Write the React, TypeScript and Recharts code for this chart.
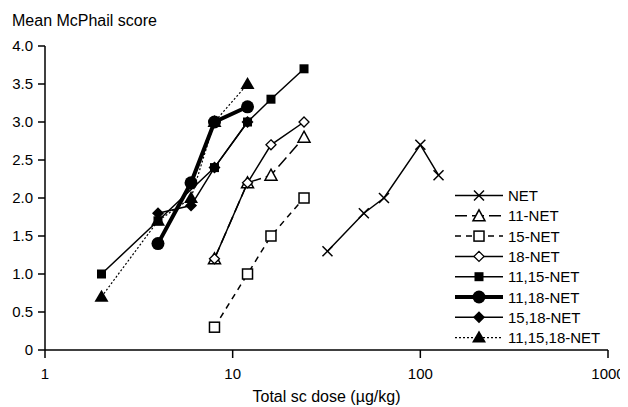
import { FC } from "react";
import { LineChart, Line, XAxis, YAxis, Legend, Label } from "recharts";

// dose (µg/kg) and mean McPhail score per compound
const netDose = [32, 50, 64, 100, 125];
const netScore = [1.3, 1.8, 2.0, 2.7, 2.3];

const n11Dose = [8, 12, 16, 24];
const n11Score = [1.2, 2.2, 2.3, 2.8];

const n15Dose = [8, 12, 16, 24];
const n15Score = [0.3, 1.0, 1.5, 2.0];

const n18Dose = [8, 12, 16, 24];
const n18Score = [1.2, 2.2, 2.7, 3.0];

const n1115Dose = [2, 4, 8, 12, 16, 24];
const n1115Score = [1.0, 1.7, 2.4, 3.0, 3.3, 3.7];

const n1118Dose = [4, 6, 8, 12];
const n1118Score = [1.4, 2.2, 3.0, 3.2];

const n1518Dose = [4, 6, 8, 12];
const n1518Score = [1.8, 1.9, 2.4, 3.0];

const n111518Dose = [2, 4, 6, 8, 12];
const n111518Score = [0.7, 1.7, 2.0, 3.0, 3.5];

const xTicks = [1, 10, 100, 1000];
const yTicks = [0, 0.5, 1, 1.5, 2, 2.5, 3, 3.5, 4];

type Shape =
  | "cross"
  | "triOpen"
  | "sqOpen"
  | "diaOpen"
  | "sqFilled"
  | "circle"
  | "diaFilled"
  | "triFilled";

const toRows = (dose: number[], score: number[]) =>
  dose.map((d, i) => ({ dose: d, score: score[i] }));

const SERIES: {
  name: string;
  data: { dose: number; score: number }[];
  shape: Shape;
  width: number;
  dash?: string;
}[] = [
  { name: "NET", data: toRows(netDose, netScore), shape: "cross", width: 1.5 },
  { name: "11-NET", data: toRows(n11Dose, n11Score), shape: "triOpen", width: 1.5, dash: "12 5" },
  { name: "15-NET", data: toRows(n15Dose, n15Score), shape: "sqOpen", width: 1.5, dash: "6 5" },
  { name: "18-NET", data: toRows(n18Dose, n18Score), shape: "diaOpen", width: 1.5 },
  { name: "11,15-NET", data: toRows(n1115Dose, n1115Score), shape: "sqFilled", width: 1.5 },
  { name: "11,18-NET", data: toRows(n1118Dose, n1118Score), shape: "circle", width: 4 },
  { name: "15,18-NET", data: toRows(n1518Dose, n1518Score), shape: "diaFilled", width: 1.5 },
  { name: "11,15,18-NET", data: toRows(n111518Dose, n111518Score), shape: "triFilled", width: 1.2, dash: "2 2" },
];

const INK = "#000";

const Marker: FC<{ shape: Shape; cx: number; cy: number }> = ({ shape, cx, cy }) => {
  switch (shape) {
    case "cross":
      return (
        <g stroke={INK} strokeWidth={1.5}>
          <line x1={cx - 5} y1={cy - 5} x2={cx + 5} y2={cy + 5} />
          <line x1={cx - 5} y1={cy + 5} x2={cx + 5} y2={cy - 5} />
        </g>
      );
    case "triOpen":
      return (
        <polygon
          points={`${cx},${cy - 6} ${cx + 6},${cy + 5} ${cx - 6},${cy + 5}`}
          fill="#fff"
          stroke={INK}
          strokeWidth={1.5}
        />
      );
    case "sqOpen":
      return <rect x={cx - 5} y={cy - 5} width={10} height={10} fill="#fff" stroke={INK} strokeWidth={1.5} />;
    case "diaOpen":
      return (
        <polygon
          points={`${cx},${cy - 5} ${cx + 5},${cy} ${cx},${cy + 5} ${cx - 5},${cy}`}
          fill="#fff"
          stroke={INK}
          strokeWidth={1.3}
        />
      );
    case "sqFilled":
      return <rect x={cx - 4.5} y={cy - 4.5} width={9} height={9} fill={INK} />;
    case "circle":
      return <circle cx={cx} cy={cy} r={6.5} fill={INK} />;
    case "diaFilled":
      return <polygon points={`${cx},${cy - 6} ${cx + 6},${cy} ${cx},${cy + 6} ${cx - 6},${cy}`} fill={INK} />;
    case "triFilled":
      return <polygon points={`${cx},${cy - 7} ${cx + 7},${cy + 5} ${cx - 7},${cy + 5}`} fill={INK} />;
  }
  return null;
};

const LegendBox = () => (
  <svg width={175} height={170} style={{ display: "block" }}>
    {SERIES.map((s, i) => {
      const y = 10.5 + i * 20.3;
      return (
        <g key={s.name}>
          <line x1={7} x2={55} y1={y} y2={y} stroke={INK} strokeWidth={s.width} strokeDasharray={s.dash} />
          <Marker shape={s.shape} cx={31} cy={y} />
          <text x={60} y={y + 5.5} fontSize={15} fontFamily="'Liberation Sans', Arial, sans-serif" fill={INK}>
            {s.name}
          </text>
        </g>
      );
    })}
  </svg>
);

const fmtY = (v: number) => (v === 0 ? "0" : v.toFixed(1));

export default function App() {
  const font = "'Liberation Sans', Arial, sans-serif";
  return (
    <div style={{ width: 620, height: 399, background: "#fff" }}>
      <LineChart width={620} height={399} margin={{ top: 38, right: 20, bottom: 0, left: 0 }}>
        <XAxis
          type="number"
          dataKey="dose"
          scale="log"
          domain={[1, 1000]}
          ticks={xTicks}
          allowDataOverflow
          height={57}
          stroke={INK}
          strokeWidth={1.5}
          tickSize={8}
          tickMargin={10}
          tick={{ fill: INK, fontSize: 15, fontFamily: font }}
          label={{ value: "Total sc dose (\u00b5g/kg)", position: "insideBottom", offset: 5, fill: INK, fontSize: 16, fontFamily: font }}
        />
        <YAxis
          type="number"
          dataKey="score"
          domain={[0, 4]}
          ticks={yTicks}
          width={37}
          stroke={INK}
          strokeWidth={1.5}
          tickSize={7}
          tickMargin={5}
          tickFormatter={fmtY}
          tick={{ fill: INK, fontSize: 15, fontFamily: font }}
        >
          <Label
            content={() => (
              <text x={4} y={18} fontSize={16} fontFamily={font} fill={INK}>
                Mean McPhail score
              </text>
            )}
          />
        </YAxis>
        {SERIES.map((s) => (
          <Line
            key={s.name}
            data={s.data}
            dataKey="score"
            name={s.name}
            stroke={INK}
            strokeWidth={s.width}
            strokeDasharray={s.dash}
            isAnimationActive={false}
            dot={(p: any) => <Marker key={`${s.name}-${p.index}`} shape={s.shape} cx={p.cx} cy={p.cy} />}
            activeDot={false}
          />
        ))}
        <Legend
          layout="vertical"
          align="center"
          verticalAlign="middle"
          wrapperStyle={{ left: 440, top: 177, width: 175 }}
          content={() => <LegendBox />}
        />
      </LineChart>
    </div>
  );
}
